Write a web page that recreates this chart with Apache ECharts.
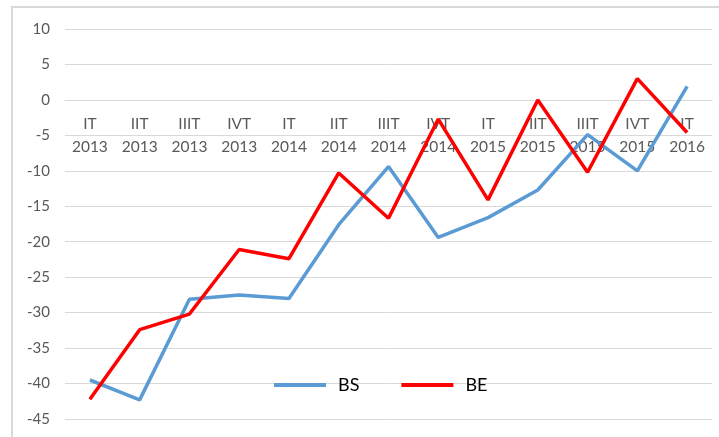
<!DOCTYPE html>
<html>
<head>
<meta charset="utf-8">
<script src="https://cdn.jsdelivr.net/npm/echarts@6/dist/echarts.min.js"></script>
<style>
  html, body { margin: 0; padding: 0; background: #fff; }
  #chart { width: 719px; height: 437px; }
</style>
</head>
<body>
<div id="chart"></div>
<script>
// quarters (label shown as two lines: quarter / year)
var quarters = ['IT', 'IIT', 'IIIT', 'IVT', 'IT', 'IIT', 'IIIT', 'IVT', 'IT', 'IIT', 'IIIT', 'IVT', 'IT'];
var years = ['2013', '2013', '2013', '2013', '2014', '2014', '2014', '2014', '2015', '2015', '2015', '2015', '2016'];
var categories = quarters.map(function (q, i) { return q + '\n' + years[i]; });

var bsValues = [-39.5, -42.3, -28.1, -27.5, -28.0, -17.6, -9.4, -19.4, -16.6, -12.7, -4.9, -10.0, 1.9];
var beValues = [-42.2, -32.4, -30.2, -21.1, -22.4, -10.3, -16.7, -2.7, -14.1, 0.0, -10.2, 3.0, -4.6];

var yTicks = { min: -45, max: 10, step: 5 };

document.addEventListener('DOMContentLoaded', function () {
    var chart = echarts.init(document.getElementById('chart'));
    var font = 'Lato, "Open Sans", sans-serif';

    // plot area
    var gridTop = 29, gridBottom = 18;
    var plotH = 437 - gridTop - gridBottom;
    // category axis sits on the zero line (excel "crosses at 0")
    var zeroOffset = -plotH * (0 - yTicks.min) / (yTicks.max - yTicks.min);

    var option = {
        animation: false,
        backgroundColor: '#ffffff',
        graphic: [
            {
                // chart area border (Excel style)
                type: 'rect',
                shape: { x: 12, y: 7, width: 760, height: 460 },
                style: { fill: 'none', stroke: '#d9d9d9', lineWidth: 2 },
                silent: true
            }
        ],
        grid: {
            left: 65,
            right: 7,
            top: gridTop,
            bottom: gridBottom,
            containLabel: false,
            outerBoundsMode: 'none'
        },
        legend: {
            left: 269,
            top: 371,
            itemWidth: 52,
            itemHeight: 4,
            itemGap: 42,
            icon: 'rect',
            textStyle: {
                fontFamily: font,
                fontSize: 18,
                color: '#000000',
                padding: [0, 0, 0, 7]
            },
            data: ['BS', 'BE']
        },
        xAxis: {
            type: 'category',
            data: categories,
            boundaryGap: true,
            position: 'bottom',
            offset: zeroOffset,
            axisLine: { show: true, onZero: false, lineStyle: { color: '#d9d9d9' } },
            axisTick: { show: false },
            axisLabel: {
                interval: 0,
                margin: 13,
                fontFamily: font,
                fontSize: 15.5,
                lineHeight: 23,
                color: '#595959'
            }
        },
        yAxis: {
            type: 'value',
            min: yTicks.min,
            max: yTicks.max,
            interval: yTicks.step,
            axisLine: { show: false },
            axisTick: { show: false },
            axisLabel: {
                margin: 15,
                fontFamily: font,
                fontSize: 15,
                color: '#595959'
            },
            splitLine: { lineStyle: { color: '#d9d9d9', width: 1 } }
        },
        series: [
            {
                name: 'BS',
                type: 'line',
                data: bsValues,
                showSymbol: false,
                symbol: 'none',
                lineStyle: { width: 3.5, color: '#5b9bd5' },
                itemStyle: { color: '#5b9bd5' }
            },
            {
                name: 'BE',
                type: 'line',
                data: beValues,
                showSymbol: false,
                symbol: 'none',
                lineStyle: { width: 3.5, color: '#ff0000' },
                itemStyle: { color: '#ff0000' }
            }
        ]
    };

    chart.setOption(option);
});
</script>
</body>
</html>
